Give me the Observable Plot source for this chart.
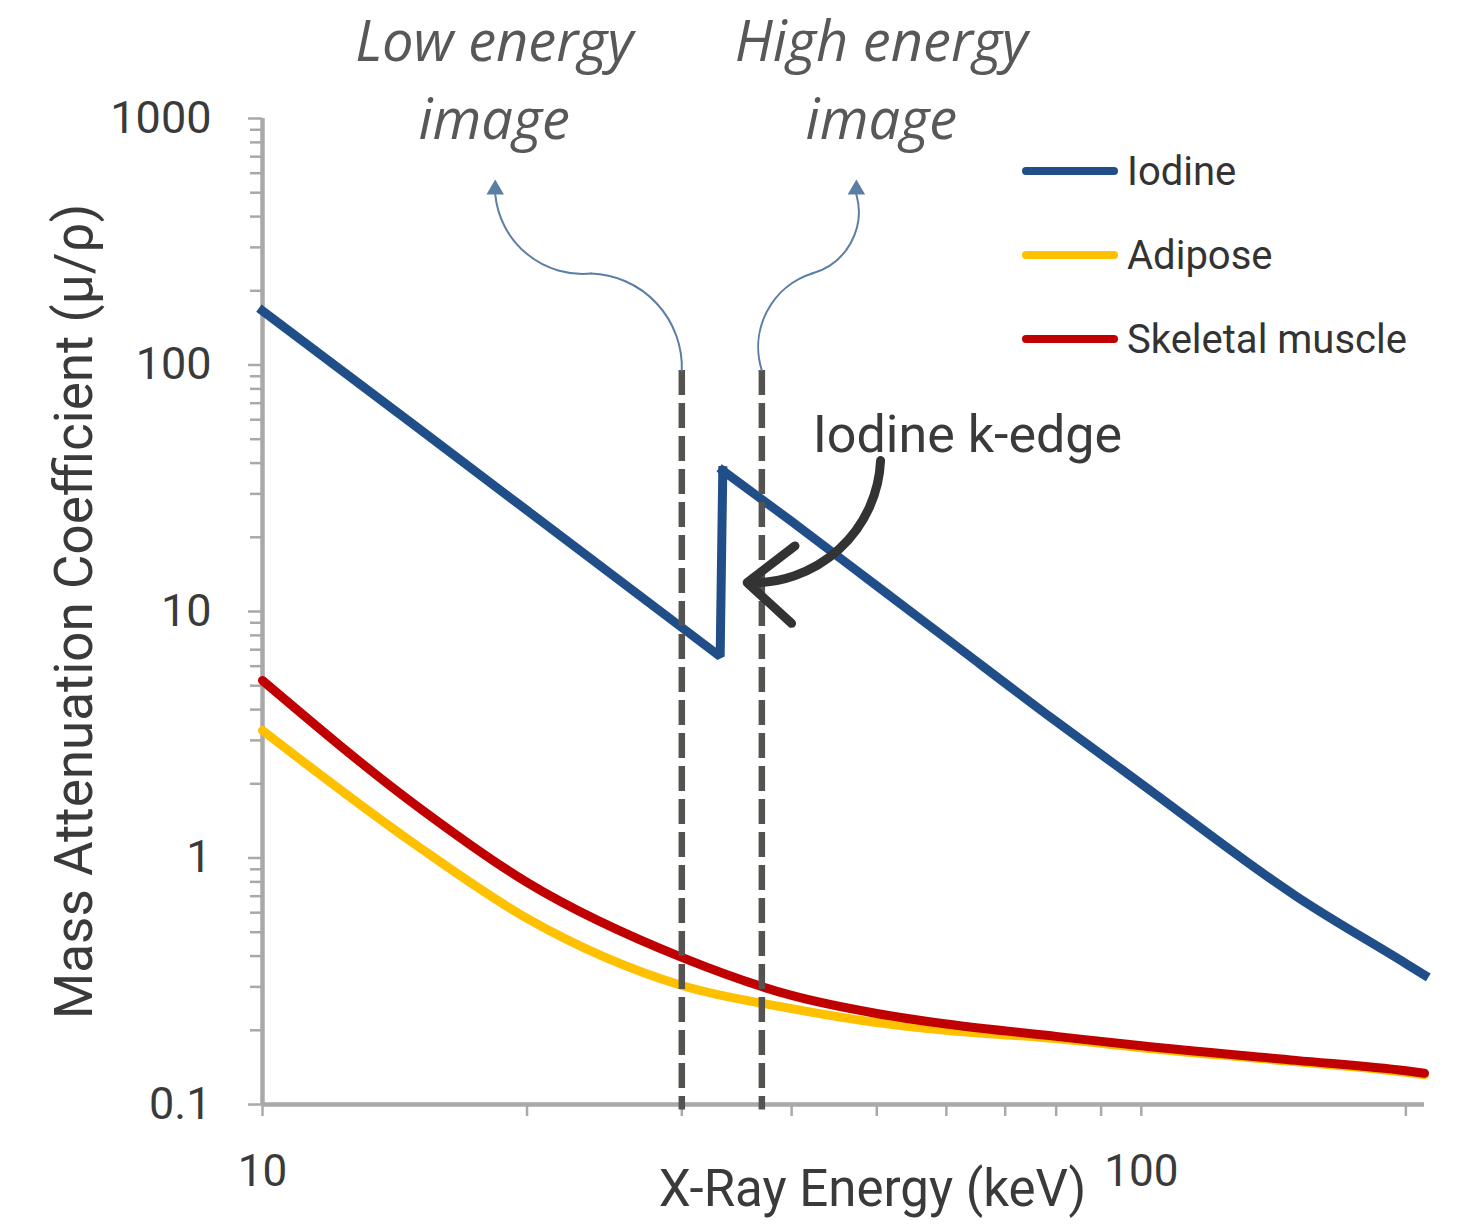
<!DOCTYPE html>
<html>
<head>
<meta charset="utf-8">
<script src="https://cdn.jsdelivr.net/npm/d3@7"></script>
<script src="https://cdn.jsdelivr.net/npm/@observablehq/plot@0.6"></script>
<style>
  html, body { margin: 0; padding: 0; background: #fff; }
  #chart { position: relative; width: 1465px; height: 1231px; overflow: hidden; }
  #chart svg { position: absolute; left: 0; top: 0; }
  .legend { position: absolute; left: 1022px; top: 129px; font-family: Roboto, "Open Sans", sans-serif; font-size: 40px; color: #333; }
  .legend .row { display: flex; align-items: center; height: 84px; }
  .legend .swatch { width: 96px; height: 8px; border-radius: 4px; margin-right: 9px; }
</style>
</head>
<body>
<div id="chart"></div>
<script>
// Mass attenuation coefficient (cm²/g) versus photon energy (keV)
// Iodine: below the K-edge, then above it
const iodineBelowEnergy = [10, 15, 20, 30, 33.17, 33.4];
const iodineBelowMu     = [166, 55.8, 25.7, 8.61, 6.57, 37.3];
const iodineAboveEnergy = [33.4, 40, 50, 60, 80, 100, 150, 200, 210];
const iodineAboveMu     = [37.3, 23.2, 12.7, 7.77, 3.58, 2.0, 0.70, 0.373, 0.335];

const tissueEnergy = [10, 15, 20, 30, 40, 50, 60, 80, 100, 150, 200, 210];
const adiposeMu    = [3.29, 1.12, 0.569, 0.304, 0.245, 0.215, 0.200, 0.185, 0.170, 0.149, 0.135, 0.132];
const muscleMu     = [5.25, 1.62, 0.796, 0.395, 0.277, 0.234, 0.212, 0.189, 0.173, 0.151, 0.137, 0.134];

const seriesNames  = ["Iodine", "Adipose", "Skeletal muscle"];
const seriesColors = ["#1f4e88", "#ffc000", "#c00000"];

// Axis ticks
const yLabelTicks = [0.1, 1, 10, 100, 1000];
const yMinorTicks = [0.1, 1, 10, 100].flatMap(d => [2, 3, 4, 5, 6, 7, 8, 9].map(k => +(d * k).toPrecision(3)));
const xTicks      = [10, 20, 30, 40, 50, 60, 70, 80, 90, 100, 200];
const xLabelTicks = [10, 100];

// Dual-energy acquisition energies and their callouts
const imageEnergies = [30, 37];
const imageLabels   = [
  {energy: 18.35, text: "Low energy\nimage"},
  {energy: 50.6,  text: "High energy\nimage"}
];
// each callout: rises from the dashed line, turns through a corner, ends under the arrowhead
const calloutLower = [
  {e1: 30, m1: 95, e2: 23.65, m2: 235, bend: -45},
  {e1: 37, m1: 95, e2: 42.2,  m2: 235, bend: 45}
];
const calloutUpper = [
  {e1: 23.65, m1: 235, e2: 18.4, m2: 492, bend: 45},
  {e1: 42.2,  m1: 235, e2: 47.4, m2: 492, bend: -45}
];
const calloutTips  = [{energy: 18.4, mu: 515}, {energy: 47.4, mu: 515}];

const kEdgeLabel = [{energy: 63.4, mu: 51.8, text: "Iodine k-edge"}];
const kEdgeArrow = [{e1: 50.5, m1: 41, e2: 35.6, m2: 13.1}];

const iodineBelow = iodineBelowEnergy.map((e, i) => ({energy: e, mu: iodineBelowMu[i], series: seriesNames[0]}));
const iodineAbove = iodineAboveEnergy.map((e, i) => ({energy: e, mu: iodineAboveMu[i], series: seriesNames[0]}));
const adipose = tissueEnergy.map((e, i) => ({energy: e, mu: adiposeMu[i], series: seriesNames[1]}));
const muscle  = tissueEnergy.map((e, i) => ({energy: e, mu: muscleMu[i], series: seriesNames[2]}));

const axisGray = "#a9a9a9";
const textDark = "#3a3a3a";
const calloutBlue = "#5b7ea4";
const sans = "Roboto, 'Open Sans', sans-serif";

const calloutArc = (data, headLength) => data.map(d => Plot.arrow([d], {
  x1: "e1", y1: "m1", x2: "e2", y2: "m2", bend: d.bend, headLength,
  stroke: calloutBlue, strokeWidth: 2
}));

const plot = Plot.plot({
  width: 1465,
  height: 1231,
  marginLeft: 262,
  marginRight: 41,
  marginTop: 118,
  marginBottom: 127,
  style: {background: "transparent", overflow: "visible", fontFamily: sans},
  x: {type: "log", domain: [10, 210]},
  y: {type: "log", domain: [0.1, 1000]},
  color: {domain: seriesNames, range: seriesColors},
  marks: [
    // axis ticks and labels
    Plot.axisY(yMinorTicks, {tickSize: 12, tickFormat: () => "", stroke: axisGray, strokeWidth: 2.5, label: null}),
    Plot.axisY(yLabelTicks, {tickSize: 14, tickPadding: 37, tickFormat: d => `${d}`, stroke: axisGray, strokeWidth: 2.5,
      fill: textDark, fontSize: 45, fontFamily: sans, label: null}),
    Plot.axisX(xTicks, {tickSize: 12, tickFormat: () => "", stroke: axisGray, strokeWidth: 2.5, label: null}),
    Plot.axisX(xLabelTicks, {tickSize: 0, tickPadding: 50, tickFormat: d => `${d}`, fill: textDark,
      fontSize: 44, fontFamily: sans, label: null}),
    // axis lines
    Plot.ruleX([10], {stroke: axisGray, strokeWidth: 4.5}),
    Plot.ruleY([0.1], {stroke: axisGray, strokeWidth: 4.5}),
    // axis titles
    Plot.text(["Mass Attenuation Coefficient (\u03bc/\u03c1)"], {frameAnchor: "left", dx: -187, rotate: -90,
      textAnchor: "middle", fontSize: 53, fill: textDark, fontFamily: sans}),
    Plot.text(["X-Ray Energy (keV)"], {frameAnchor: "bottom", dx: 29, dy: 101, fontSize: 51,
      fill: textDark, fontFamily: sans}),
    // attenuation curves
    Plot.line(iodineBelow, {x: "energy", y: "mu", stroke: "series", strokeWidth: 9, strokeLinecap: "square",
      strokeLinejoin: "miter"}),
    Plot.line(iodineAbove, {x: "energy", y: "mu", stroke: "series", strokeWidth: 9, strokeLinecap: "square",
      curve: "monotone-x"}),
    Plot.line(adipose, {x: "energy", y: "mu", stroke: "series", strokeWidth: 9, curve: "monotone-x"}),
    Plot.line(muscle, {x: "energy", y: "mu", stroke: "series", strokeWidth: 9, curve: "monotone-x"}),
    // acquisition energies
    Plot.ruleX(imageEnergies, {y1: 95, y2: 0.095, stroke: "#555350", strokeWidth: 6.5, strokeDasharray: "25,8"}),
    // callouts to the image labels
    ...calloutArc(calloutLower, 0),
    ...calloutArc(calloutUpper, 0),
    Plot.dot(calloutTips, {x: "energy", y: "mu", symbol: "triangle", r: 6.5, fill: calloutBlue, stroke: null}),
    Plot.text(imageLabels, {x: "energy", text: "text", frameAnchor: "top", lineAnchor: "top", dy: -112,
      lineHeight: 1.38, fontSize: 56, fontStyle: "italic", fill: "#58585a", fontFamily: "'Open Sans', sans-serif"}),
    // k-edge annotation
    Plot.arrow(kEdgeArrow, {x1: "e1", y1: "m1", x2: "e2", y2: "m2", bend: 45, stroke: "#333", strokeWidth: 9,
      headLength: 13, headAngle: 80}),
    Plot.text(kEdgeLabel, {x: "energy", y: "mu", text: "text", fontSize: 52, fill: textDark, fontFamily: sans})
  ]
});

const chart = document.getElementById("chart");
chart.appendChild(plot);

// legend in the upper right of the plot area
const legend = document.createElement("div");
legend.className = "legend";
seriesNames.forEach((name, i) => {
  const row = document.createElement("div");
  row.className = "row";
  const sw = document.createElement("span");
  sw.className = "swatch";
  sw.style.background = seriesColors[i];
  const label = document.createElement("span");
  label.textContent = name;
  row.appendChild(sw);
  row.appendChild(label);
  legend.appendChild(row);
});
chart.appendChild(legend);
</script>
</body>
</html>
